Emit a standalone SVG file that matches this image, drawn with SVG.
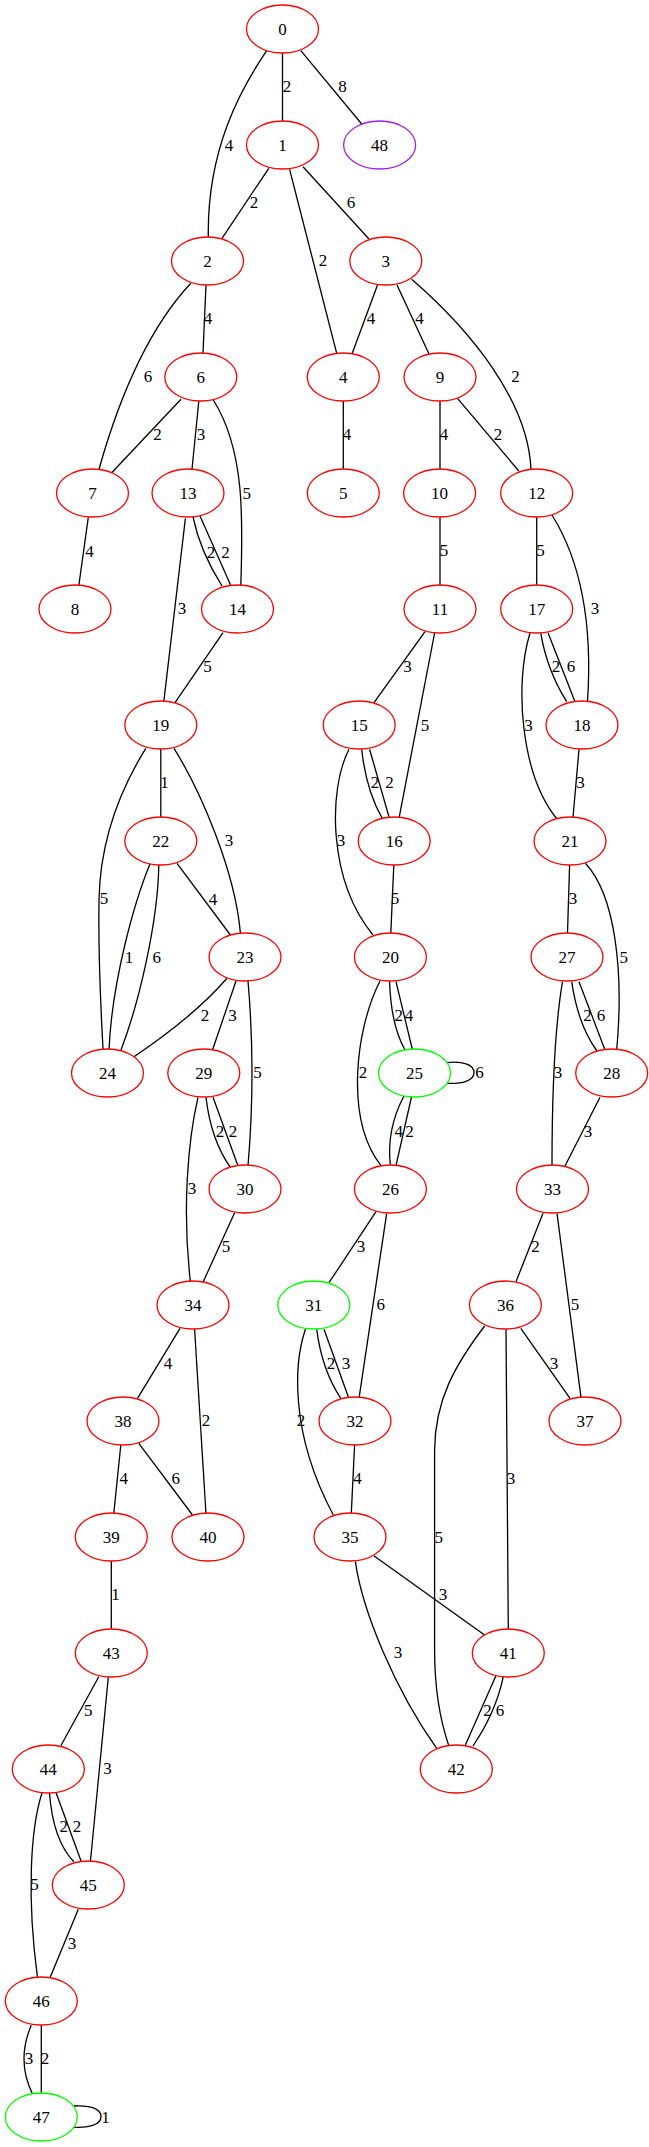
<svg xmlns="http://www.w3.org/2000/svg" width="649" height="2147" viewBox="0 0 649 2147">
<style>
.e{fill:none;stroke:#000;stroke-width:1.3}
.n ellipse{fill:#fff;stroke-width:1.3}
.r{stroke:#ff0000}
.g{stroke:#00ff00}
.p{stroke:#a020f0}
text{font-family:"Liberation Serif","Times New Roman",serif;font-size:17px;text-anchor:middle;fill:#000}
</style>
<rect width="649" height="2147" fill="#fff"/>
<g id="connectors">
<path class="e" d="M282.5,53 L282.5,121"/><text x="287" y="91.8">2</text>
<path class="e" d="M300.8,50.7 L361.7,124"/><text x="342.5" y="91.8">8</text>
<path class="e" d="M266.7,50.7 C240,90 207,150 208.3,237"/><text x="229" y="150.8">4</text>
<path class="e" d="M268.8,168.3 L222,238.3"/><text x="254" y="207.8">2</text>
<path class="e" d="M289.6,169.3 L336.7,353.3"/><text x="323" y="265.8">2</text>
<path class="e" d="M303,166.7 L369,239"/><text x="351" y="207.8">6</text>
<path class="e" d="M190.8,283.3 Q134.3,343.7 99,469.3"/><text x="148" y="381.8">6</text>
<path class="e" d="M206,285 L203,353"/><text x="208" y="323.8">4</text>
<path class="e" d="M377.5,285 L352,354"/><text x="371" y="323.8">4</text>
<path class="e" d="M397,285 L429,354"/><text x="419.6" y="323.8">4</text>
<path class="e" d="M411.7,279.3 C470,330 528,400 531,469.3"/><text x="515.4" y="381.8">2</text>
<path class="e" d="M181,399.3 L111.7,472.7"/><text x="157.5" y="439.8">2</text>
<path class="e" d="M198.8,401.3 L192,469.3"/><text x="201" y="439.8">3</text>
<path class="e" d="M213.3,400 C245,450 243,520 240.8,585.7"/><text x="246.7" y="498.5">5</text>
<path class="e" d="M193,517 Q200,551 222,586"/><text x="211" y="557.8">2</text>
<path class="e" d="M200,516 L231,586"/><text x="225.5" y="557.8">2</text>
<path class="e" d="M185.4,518.3 L163.8,701.7"/><text x="182" y="613.8">3</text>
<path class="e" d="M88.3,517.3 L78.8,585.7"/><text x="89.6" y="556.8">4</text>
<path class="e" d="M343.3,401 L343.3,469"/><text x="347" y="439.8">4</text>
<path class="e" d="M440,401 L440,469"/><text x="444" y="439.8">4</text>
<path class="e" d="M457.5,398.3 L518.8,471"/><text x="498" y="439.8">2</text>
<path class="e" d="M440,517 L440,585"/><text x="444" y="555.8">5</text>
<path class="e" d="M536.7,517 L536.7,585"/><text x="540.4" y="555.8">5</text>
<path class="e" d="M552,515 C580,560 593,620 587.5,701.7"/><text x="595" y="613.8">3</text>
<path class="e" d="M223,632.7 L175,702.7"/><text x="207.5" y="671.8">5</text>
<path class="e" d="M425,631.7 L374,702.7"/><text x="407.5" y="671.8">3</text>
<path class="e" d="M434.6,633 L399,818.3"/><text x="425" y="730.8">5</text>
<path class="e" d="M540.8,633.3 Q547,670 566.7,701.7"/><text x="556" y="671.8">2</text>
<path class="e" d="M548,632.7 L575,701.7"/><text x="571" y="671.8">6</text>
<path class="e" d="M530,633 C514,685 521,775 557,819"/><text x="528.5" y="730.8">3</text>
<path class="e" d="M579,749.3 L573,817.3"/><text x="580.4" y="787.5">3</text>
<path class="e" d="M160.8,749 L160.8,817"/><text x="164.6" y="787.5">1</text>
<path class="e" d="M174,748.3 C200,790 235,870 240.4,933"/><text x="229" y="845.8">3</text>
<path class="e" d="M145.8,748.3 C120,790 100,840 99,900 C98,960 101,1010 103,1049"/><text x="104" y="903.8">5</text>
<path class="e" d="M177,863.3 L230.4,935"/><text x="213" y="904.8">4</text>
<path class="e" d="M150,864 C135,900 112,980 109,1050"/><text x="129" y="962.8">1</text>
<path class="e" d="M158.8,865 C158,920 140,1000 121,1050"/><text x="156.7" y="962.8">6</text>
<path class="e" d="M227,978.3 Q194.5,1015.9 134,1056.7"/><text x="205" y="1020.8">2</text>
<path class="e" d="M236,981 L212.5,1050"/><text x="232.5" y="1020.8">3</text>
<path class="e" d="M248,981 Q256,1072.7 248,1165.7"/><text x="257.5" y="1077.5">5</text>
<path class="e" d="M361.7,749.3 Q366,790 382.5,819"/><text x="375" y="787.5">2</text>
<path class="e" d="M369.6,749.3 L389.6,819"/><text x="389.6" y="787.5">2</text>
<path class="e" d="M349,749.3 C328,790 328,880 373,935"/><text x="341" y="845.8">3</text>
<path class="e" d="M393.8,865 L390.8,933.3"/><text x="395" y="903.8">5</text>
<path class="e" d="M569.6,865 L567.5,933.3"/><text x="573" y="903.8">3</text>
<path class="e" d="M585.4,863.3 C615,895 624,970 616.7,1050"/><text x="623.8" y="962.8">5</text>
<path class="e" d="M389.6,981.7 Q391,1025 405,1050"/><text x="398.8" y="1020.8">2</text>
<path class="e" d="M396,981.7 L412.5,1050"/><text x="409" y="1020.8">4</text>
<path class="e" d="M380,981 C355,1030 345,1120 381,1165.7"/><text x="363" y="1077.5">2</text>
<path class="e" d="M446.7,1062.7 C462,1061 474,1064 474,1072.5 C474,1081 462,1084 446.7,1083.3"/><text x="479.5" y="1078.3">6</text>
<path class="e" d="M404,1096 Q386.2,1129.2 390.4,1165.7"/><text x="398.8" y="1136.5">4</text>
<path class="e" d="M411.7,1096 L396,1165.7"/><text x="409.6" y="1136.5">2</text>
<path class="e" d="M571.7,981.7 Q578,1025 597,1051"/><text x="587.5" y="1020.8">2</text>
<path class="e" d="M579,981.7 L605,1050"/><text x="601" y="1020.8">6</text>
<path class="e" d="M562.5,981.7 C556,1020 552,1080 552,1165.7"/><text x="558" y="1077.5">3</text>
<path class="e" d="M600,1097.3 L564.6,1166.7"/><text x="588" y="1136.5">3</text>
<path class="e" d="M206,1097.3 Q211,1140 230.4,1167.3"/><text x="220" y="1136.5">2</text>
<path class="e" d="M213,1097.3 L238.3,1166.7"/><text x="233" y="1136.5">2</text>
<path class="e" d="M198,1097.3 C188,1140 182,1210 190.4,1281.7"/><text x="192" y="1194.1">3</text>
<path class="e" d="M234.6,1212.7 L203,1282.3"/><text x="226" y="1251.5">5</text>
<path class="e" d="M376,1211.7 L329,1282.7"/><text x="361" y="1251.5">3</text>
<path class="e" d="M386.7,1213.3 L359,1398.3"/><text x="380.8" y="1310.1">6</text>
<path class="e" d="M543,1213.3 L516,1281.7"/><text x="535.4" y="1251.5">2</text>
<path class="e" d="M557,1213.3 L581,1397.3"/><text x="575" y="1310.1">5</text>
<path class="e" d="M180,1328.3 L137.5,1398.3"/><text x="168" y="1368.5">4</text>
<path class="e" d="M194.6,1329.3 L206,1514"/><text x="206" y="1425.8">2</text>
<path class="e" d="M316.7,1329.3 Q322,1370 340.8,1398.3"/><text x="331" y="1368.5">2</text>
<path class="e" d="M324,1329.3 L348.8,1398.3"/><text x="346" y="1368.5">3</text>
<path class="e" d="M305.4,1329.3 C295,1360 288,1430 333.3,1515"/><text x="301" y="1425.8">2</text>
<path class="e" d="M520.8,1328.3 L570,1398.3"/><text x="554" y="1368.5">3</text>
<path class="e" d="M506,1329.3 L508.3,1629.3"/><text x="511" y="1484.1">3</text>
<path class="e" d="M484.6,1326 C455,1365 435,1400 434.6,1450 L434.6,1650 C434.6,1690 440,1720 448.8,1745.7"/><text x="438.8" y="1542.5">5</text>
<path class="e" d="M120.8,1445 L113.8,1513.3"/><text x="123.8" y="1484.1">4</text>
<path class="e" d="M138.8,1443.3 L192.5,1515"/><text x="175.8" y="1484.1">6</text>
<path class="e" d="M354.6,1445 L351.3,1513.3"/><text x="357.5" y="1484.1">4</text>
<path class="e" d="M111.3,1561 L111.3,1629"/><text x="115.4" y="1599.8">1</text>
<path class="e" d="M373.8,1555.7 L484.6,1635"/><text x="443" y="1599.8">3</text>
<path class="e" d="M355.4,1561.7 C362,1610 395,1690 436.7,1748.3"/><text x="398" y="1658.1">3</text>
<path class="e" d="M495.8,1676 L464.6,1746.7"/><text x="487.5" y="1715.8">2</text>
<path class="e" d="M503.3,1676.7 Q496,1712 473,1746"/><text x="500" y="1715.8">6</text>
<path class="e" d="M98.8,1676.7 L60.8,1745.7"/><text x="88.3" y="1715.8">5</text>
<path class="e" d="M108.3,1677.3 L90.4,1861.7"/><text x="107.5" y="1774.1">3</text>
<path class="e" d="M49.5,1793 Q53,1840 73.8,1861.7"/><text x="63.8" y="1831.8">2</text>
<path class="e" d="M56,1792.5 L81.3,1861.7"/><text x="77" y="1831.8">2</text>
<path class="e" d="M42,1793 C30,1830 27,1900 37.5,1977.7"/><text x="34.6" y="1889.8">5</text>
<path class="e" d="M78.3,1909.3 L50,1977.7"/><text x="72" y="1948.5">3</text>
<path class="e" d="M31.3,2025.3 Q16.1,2060.4 32.5,2094"/><text x="29" y="2064.1">3</text>
<path class="e" d="M41.3,2025 L41.3,2093"/><text x="45" y="2064.1">2</text>
<path class="e" d="M74,2106 C88,2105 101,2108 101,2116.7 C101,2125 88,2128 74,2127.3"/><text x="105.5" y="2122.5">1</text>
</g>
<g id="node0" class="n"><ellipse class="r" cx="282.5" cy="29" rx="36" ry="24"/><text x="282.5" y="34.8">0</text></g>
<g id="node1" class="n"><ellipse class="r" cx="282.5" cy="145" rx="36" ry="24"/><text x="282.5" y="150.8">1</text></g>
<g id="node48" class="n"><ellipse class="p" cx="379.6" cy="145" rx="36" ry="24"/><text x="379.6" y="150.8">48</text></g>
<g id="node2" class="n"><ellipse class="r" cx="207.5" cy="261" rx="36" ry="24"/><text x="207.5" y="266.8">2</text></g>
<g id="node3" class="n"><ellipse class="r" cx="385.8" cy="261" rx="36" ry="24"/><text x="385.8" y="266.8">3</text></g>
<g id="node6" class="n"><ellipse class="r" cx="200.8" cy="377" rx="36" ry="24"/><text x="200.8" y="382.8">6</text></g>
<g id="node4" class="n"><ellipse class="r" cx="343.3" cy="377" rx="36" ry="24"/><text x="343.3" y="382.8">4</text></g>
<g id="node9" class="n"><ellipse class="r" cx="440" cy="377" rx="36" ry="24"/><text x="440" y="382.8">9</text></g>
<g id="node7" class="n"><ellipse class="r" cx="92.5" cy="493" rx="36" ry="24"/><text x="92.5" y="498.8">7</text></g>
<g id="node13" class="n"><ellipse class="r" cx="188" cy="493" rx="36" ry="24"/><text x="188" y="498.8">13</text></g>
<g id="node5" class="n"><ellipse class="r" cx="343.3" cy="493" rx="36" ry="24"/><text x="343.3" y="498.8">5</text></g>
<g id="node10" class="n"><ellipse class="r" cx="439.6" cy="493" rx="36" ry="24"/><text x="439.6" y="498.8">10</text></g>
<g id="node12" class="n"><ellipse class="r" cx="536.7" cy="493" rx="36" ry="24"/><text x="536.7" y="498.8">12</text></g>
<g id="node8" class="n"><ellipse class="r" cx="75" cy="609" rx="36" ry="24"/><text x="75" y="614.8">8</text></g>
<g id="node14" class="n"><ellipse class="r" cx="237.5" cy="609" rx="36" ry="24"/><text x="237.5" y="614.8">14</text></g>
<g id="node11" class="n"><ellipse class="r" cx="440" cy="609" rx="36" ry="24"/><text x="440" y="614.8">11</text></g>
<g id="node17" class="n"><ellipse class="r" cx="536.7" cy="609" rx="36" ry="24"/><text x="536.7" y="614.8">17</text></g>
<g id="node19" class="n"><ellipse class="r" cx="160.8" cy="725" rx="36" ry="24"/><text x="160.8" y="730.8">19</text></g>
<g id="node15" class="n"><ellipse class="r" cx="359.2" cy="725" rx="36" ry="24"/><text x="359.2" y="730.8">15</text></g>
<g id="node18" class="n"><ellipse class="r" cx="582" cy="725" rx="36" ry="24"/><text x="582" y="730.8">18</text></g>
<g id="node22" class="n"><ellipse class="r" cx="160.8" cy="841" rx="36" ry="24"/><text x="160.8" y="846.8">22</text></g>
<g id="node16" class="n"><ellipse class="r" cx="394.2" cy="841" rx="36" ry="24"/><text x="394.2" y="846.8">16</text></g>
<g id="node21" class="n"><ellipse class="r" cx="570" cy="841" rx="36" ry="24"/><text x="570" y="846.8">21</text></g>
<g id="node23" class="n"><ellipse class="r" cx="245" cy="957" rx="36" ry="24"/><text x="245" y="962.8">23</text></g>
<g id="node20" class="n"><ellipse class="r" cx="390.4" cy="957" rx="36" ry="24"/><text x="390.4" y="962.8">20</text></g>
<g id="node27" class="n"><ellipse class="r" cx="567" cy="957" rx="36" ry="24"/><text x="567" y="962.8">27</text></g>
<g id="node24" class="n"><ellipse class="r" cx="107.5" cy="1073" rx="36" ry="24"/><text x="107.5" y="1078.8">24</text></g>
<g id="node29" class="n"><ellipse class="r" cx="203.8" cy="1073" rx="36" ry="24"/><text x="203.8" y="1078.8">29</text></g>
<g id="node25" class="n"><ellipse class="g" cx="414.5" cy="1073" rx="36" ry="24"/><text x="414.5" y="1078.8">25</text></g>
<g id="node28" class="n"><ellipse class="r" cx="611.7" cy="1073" rx="36" ry="24"/><text x="611.7" y="1078.8">28</text></g>
<g id="node30" class="n"><ellipse class="r" cx="245" cy="1189" rx="36" ry="24"/><text x="245" y="1194.8">30</text></g>
<g id="node26" class="n"><ellipse class="r" cx="390.4" cy="1189" rx="36" ry="24"/><text x="390.4" y="1194.8">26</text></g>
<g id="node33" class="n"><ellipse class="r" cx="552.5" cy="1189" rx="36" ry="24"/><text x="552.5" y="1194.8">33</text></g>
<g id="node34" class="n"><ellipse class="r" cx="193" cy="1305" rx="36" ry="24"/><text x="193" y="1310.8">34</text></g>
<g id="node31" class="n"><ellipse class="g" cx="313.8" cy="1305" rx="36" ry="24"/><text x="313.8" y="1310.8">31</text></g>
<g id="node36" class="n"><ellipse class="r" cx="505.4" cy="1305" rx="36" ry="24"/><text x="505.4" y="1310.8">36</text></g>
<g id="node38" class="n"><ellipse class="r" cx="123" cy="1421" rx="36" ry="24"/><text x="123" y="1426.8">38</text></g>
<g id="node32" class="n"><ellipse class="r" cx="355" cy="1421" rx="36" ry="24"/><text x="355" y="1426.8">32</text></g>
<g id="node37" class="n"><ellipse class="r" cx="585" cy="1421" rx="36" ry="24"/><text x="585" y="1426.8">37</text></g>
<g id="node39" class="n"><ellipse class="r" cx="111.3" cy="1537" rx="36" ry="24"/><text x="111.3" y="1542.8">39</text></g>
<g id="node40" class="n"><ellipse class="r" cx="208" cy="1537" rx="36" ry="24"/><text x="208" y="1542.8">40</text></g>
<g id="node35" class="n"><ellipse class="r" cx="350" cy="1537" rx="36" ry="24"/><text x="350" y="1542.8">35</text></g>
<g id="node43" class="n"><ellipse class="r" cx="111.3" cy="1653" rx="36" ry="24"/><text x="111.3" y="1658.8">43</text></g>
<g id="node41" class="n"><ellipse class="r" cx="508.3" cy="1653" rx="36" ry="24"/><text x="508.3" y="1658.8">41</text></g>
<g id="node44" class="n"><ellipse class="r" cx="48.3" cy="1769" rx="36" ry="24"/><text x="48.3" y="1774.8">44</text></g>
<g id="node42" class="n"><ellipse class="r" cx="456.3" cy="1769" rx="36" ry="24"/><text x="456.3" y="1774.8">42</text></g>
<g id="node45" class="n"><ellipse class="r" cx="88.3" cy="1885" rx="36" ry="24"/><text x="88.3" y="1890.8">45</text></g>
<g id="node46" class="n"><ellipse class="r" cx="41.3" cy="2001" rx="36" ry="24"/><text x="41.3" y="2006.8">46</text></g>
<g id="node47" class="n"><ellipse class="g" cx="41.3" cy="2117" rx="36" ry="24"/><text x="41.3" y="2122.8">47</text></g>
</svg>
